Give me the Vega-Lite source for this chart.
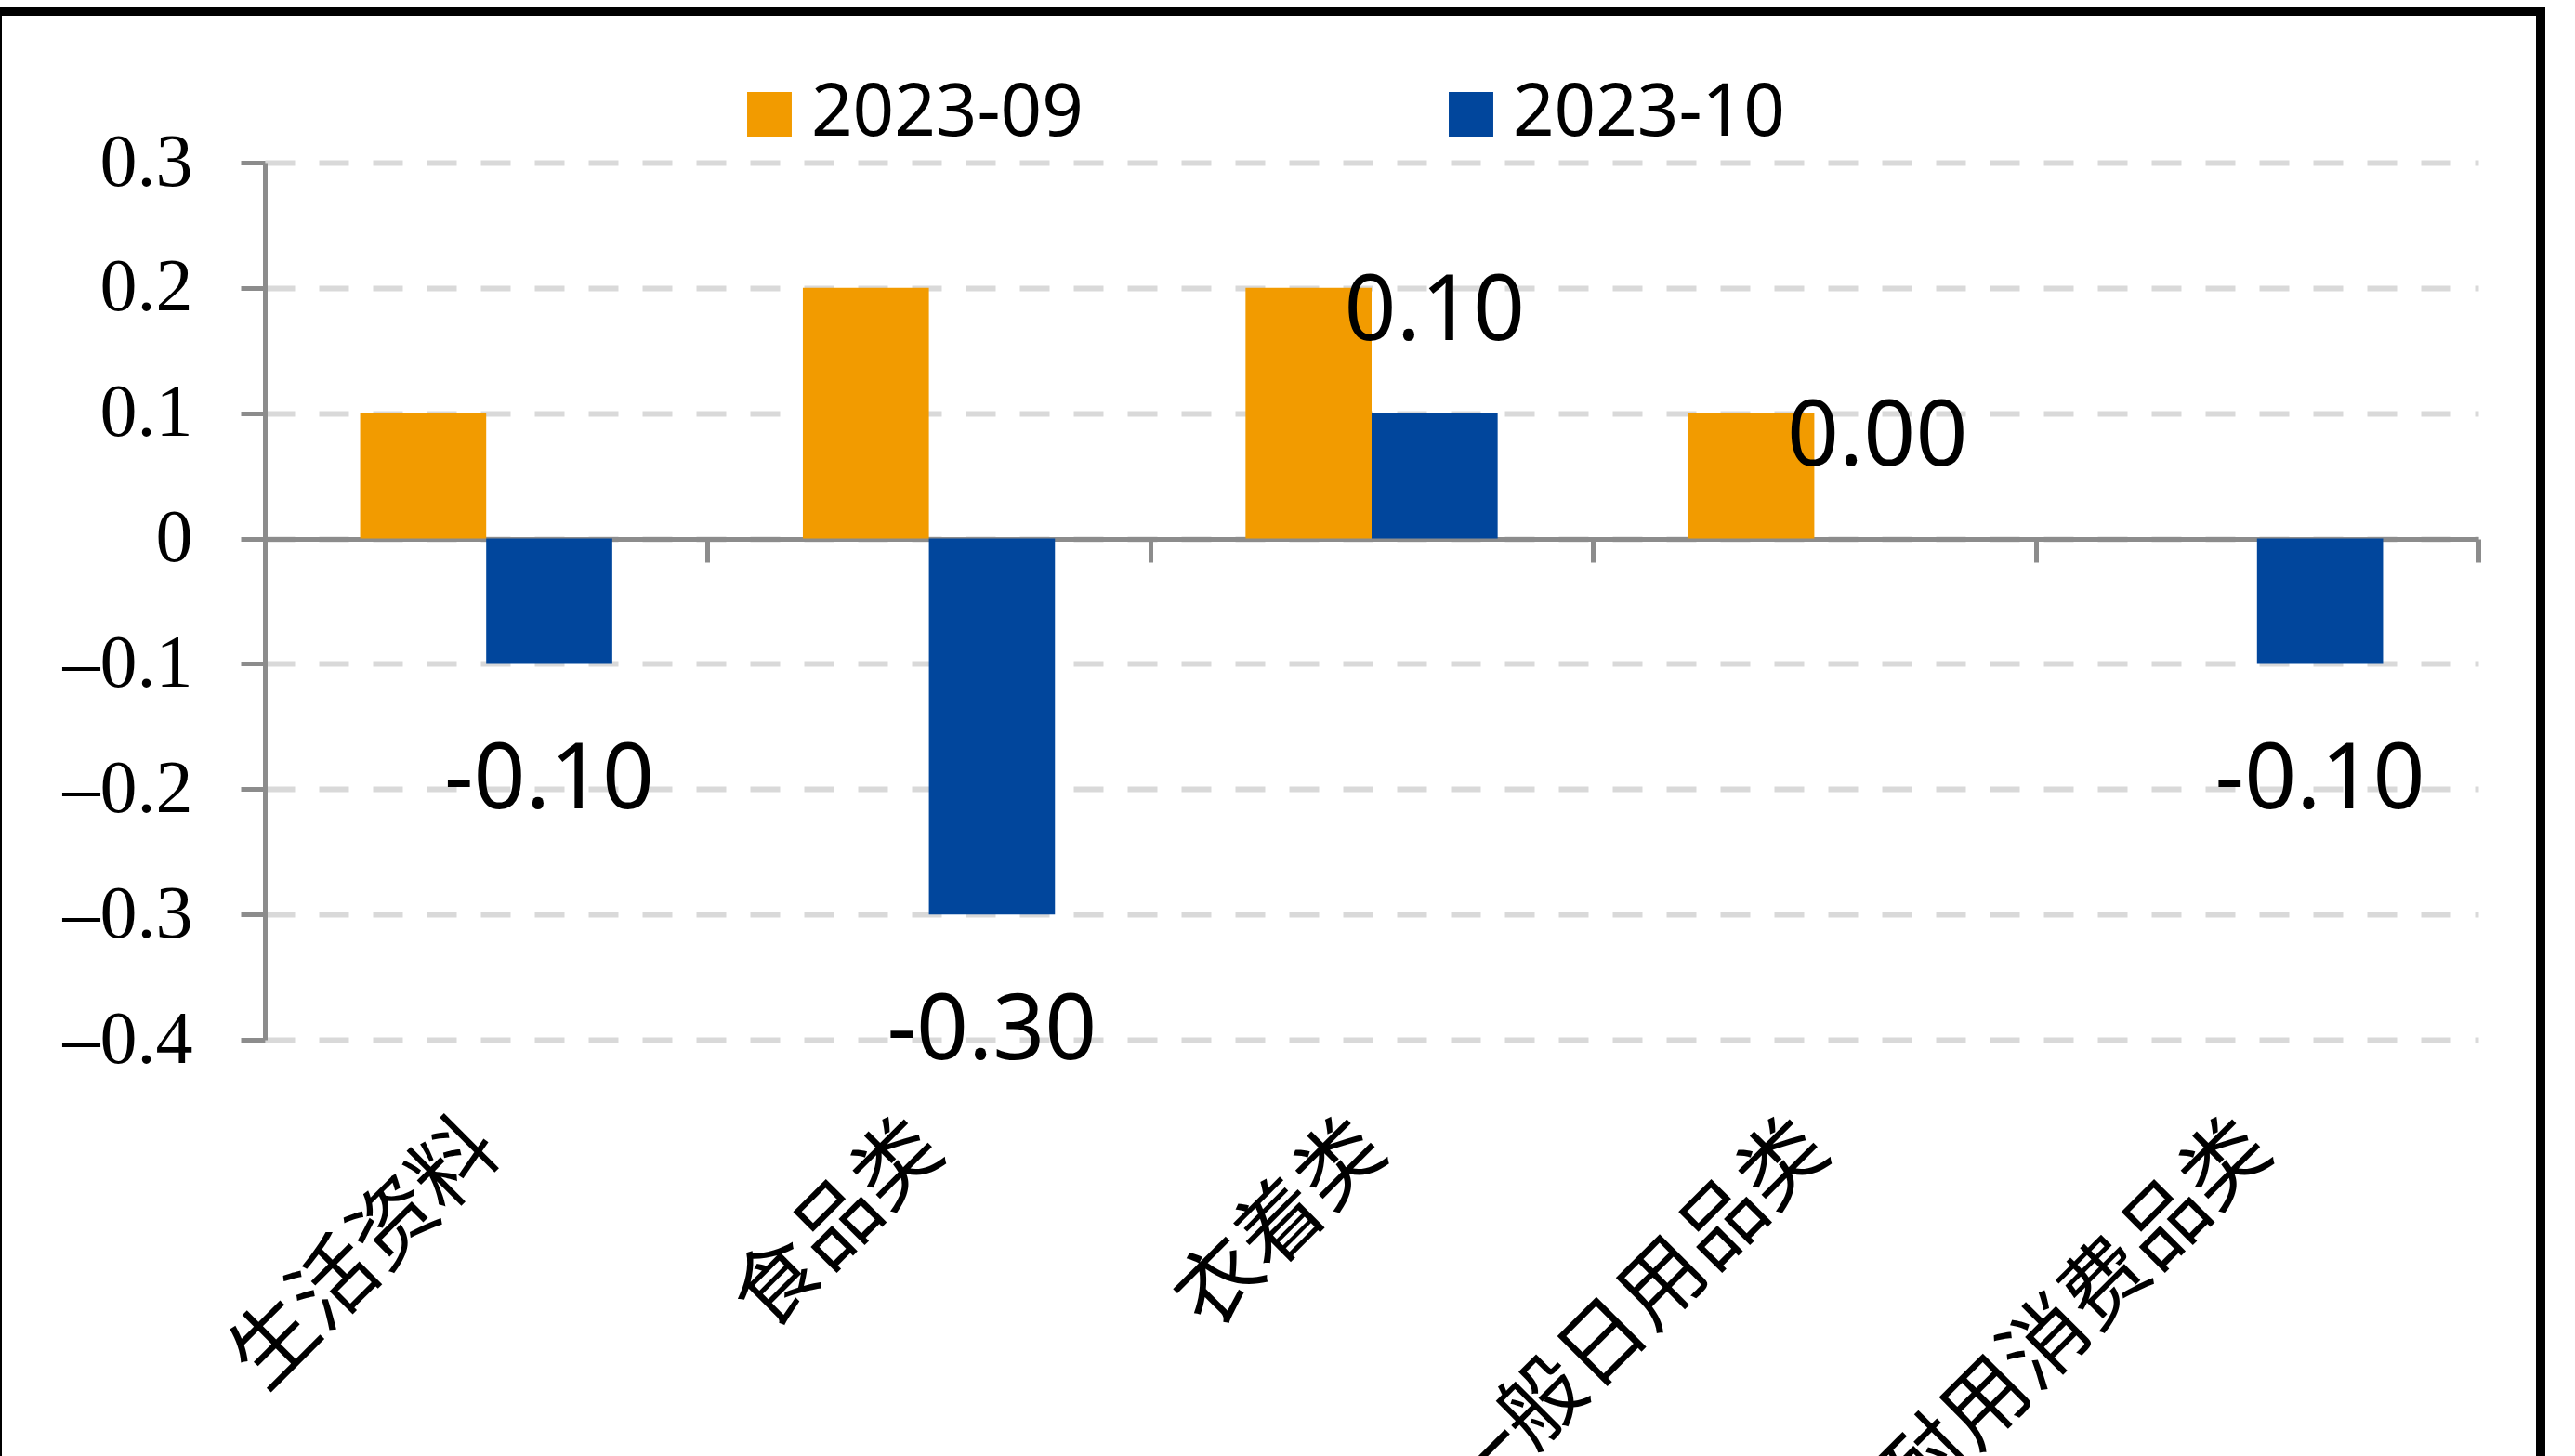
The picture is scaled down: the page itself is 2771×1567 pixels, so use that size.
{
  "$schema": "https://vega.github.io/schema/vega-lite/v6.json",
  "autosize": "none",
  "width": 2737,
  "height": 1600,
  "padding": {"left": -3, "top": 12, "right": 37, "bottom": -45},
  "background": "white",
  "view": {"stroke": "black", "strokeWidth": 10, "fill": "white"},
  "data": {
    "values": [
      {"cat": "生活资料", "series": "2023-09", "value": 0.1},
      {"cat": "生活资料", "series": "2023-10", "value": -0.1},
      {"cat": "食品类", "series": "2023-09", "value": 0.2},
      {"cat": "食品类", "series": "2023-10", "value": -0.3},
      {"cat": "衣着类", "series": "2023-09", "value": 0.2},
      {"cat": "衣着类", "series": "2023-10", "value": 0.1},
      {"cat": "一般日用品类", "series": "2023-09", "value": 0.1},
      {"cat": "一般日用品类", "series": "2023-10", "value": 0.0},
      {"cat": "耐用消费品类", "series": "2023-09", "value": 0.0},
      {"cat": "耐用消费品类", "series": "2023-10", "value": -0.1}
    ]
  },
  "encoding": {
    "y": {
      "field": "value",
      "type": "quantitative",
      "scale": {"domain": [-0.4, 0.3], "range": [1107, 163], "nice": false, "zero": false},
      "axis": {
        "title": null,
        "values": [-0.4, -0.3, -0.2, -0.1, 0, 0.1, 0.2, 0.3],
        "offset": -288,
        "domainColor": "#8c8c8c",
        "domainWidth": 5,
        "tickColor": "#8c8c8c",
        "tickWidth": 5,
        "tickSize": 26,
        "labelFont": "Liberation Serif",
        "labelFontSize": 80,
        "labelColor": "black",
        "labelPadding": 52,
        "labelFlush": false,
        "labelOverlap": false,
        "labelExpr": "datum.value == 0 ? '0' : replace(format(datum.value, '.1f'), '−', '–')",
        "grid": true,
        "gridColor": "#d9d9d9",
        "gridWidth": 6,
        "gridDash": [32, 26]
      }
    }
  },
  "layer": [
    {
      "mark": {"type": "bar"},
      "encoding": {
        "x": {
          "field": "cat",
          "type": "nominal",
          "sort": null,
          "scale": {"range": [288, 2670], "paddingInner": 0, "paddingOuter": 0},
          "axis": {
            "title": null,
            "orient": "bottom",
            "offset": -1032,
            "labels": false,
            "domainColor": "#8c8c8c",
            "domainWidth": 5,
            "ticks": true,
            "tickBand": "extent",
            "tickSize": 25,
            "tickColor": "#8c8c8c",
            "tickWidth": 5,
            "grid": false
          }
        },
        "xOffset": {
          "field": "series",
          "type": "nominal",
          "scale": {"paddingInner": 0, "paddingOuter": 0.756}
        },
        "color": {
          "field": "series",
          "type": "nominal",
          "scale": {"domain": ["2023-09", "2023-10"], "range": ["#F29B00", "#01469C"]},
          "legend": {
            "title": null,
            "orient": "none",
            "legendX": 792,
            "legendY": 72,
            "direction": "horizontal",
            "symbolType": "square",
            "symbolSize": 2300,
            "symbolStrokeWidth": 0,
            "labelFont": "Noto Sans",
            "labelFontSize": 78,
            "labelColor": "black",
            "labelOffset": 6,
            "columnPadding": 378,
            "padding": 0,
            "labelLimit": 1000
          }
        }
      }
    },
    {
      "transform": [{"filter": "datum.series == '2023-10'"}],
      "mark": {
        "type": "text",
        "font": "Noto Sans",
        "fontSize": 98,
        "color": "black",
        "align": "center",
        "baseline": "middle",
        "dy": {"expr": "datum.value < 0 ? 127 : -108"},
        "text": {"expr": "replace(format(datum.value, '.2f'), '−', '-')"}
      },
      "encoding": {
        "x": {
          "field": "cat",
          "type": "nominal",
          "sort": null,
          "axis": {
            "title": null,
            "orient": "bottom",
            "offset": -390,
            "domain": false,
            "ticks": false,
            "tickSize": 0,
            "labelPadding": 0,
            "labelDx": 10,
            "labelAngle": -45,
            "labelAlign": "right",
            "labelBaseline": "middle",
            "labelFont": "Noto Sans CJK SC",
            "labelFontSize": 91,
            "labelColor": "black",
            "labelOverlap": false,
            "labelLimit": 2000,
            "grid": false
          }
        },
        "xOffset": {"field": "series", "type": "nominal"}
      }
    }
  ],
  "resolve": {"axis": {"x": "independent"}}
}
